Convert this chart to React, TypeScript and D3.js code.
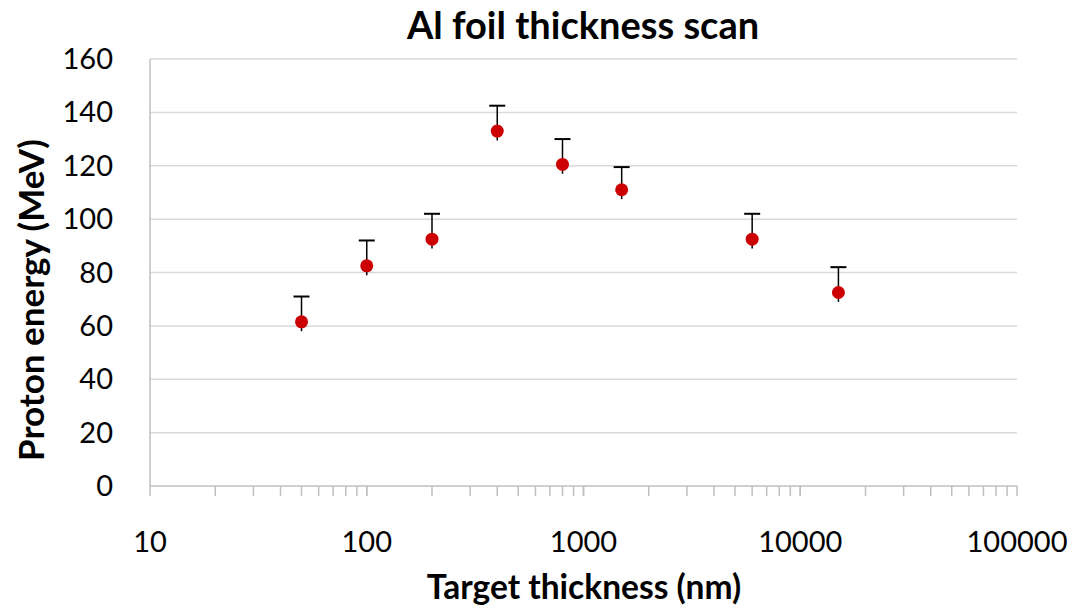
import React from "react";
import * as d3 from "d3";

const thickness = [50, 100, 200, 400, 800, 1500, 6000, 15000];
const energy = [61.5, 82.5, 92.5, 133, 120.5, 111, 92.5, 72.5];
const errPlus = [9.5, 9.5, 9.5, 9.5, 9.5, 8.5, 9.5, 9.5];
const errMinus = [3.5, 3.5, 3.5, 3.5, 3.5, 3.5, 3.5, 3.5];
const yTicks = [0, 20, 40, 60, 80, 100, 120, 140, 160];
const xTicks = [10, 100, 1000, 10000, 100000];

const W = 1084;
const H = 610;
const font = "Lato, 'Open Sans', sans-serif";

export default function App() {
  const x = d3.scaleLog().domain([10, 100000]).range([150, 1017]);
  const y = d3.scaleLinear().domain([0, 160]).range([486, 59]);
  const minor: number[] = [];
  for (let d = 10; d < 100000; d *= 10) {
    for (let k = 1; k <= 10; k++) minor.push(d * k);
  }
  return (
    <svg width={W} height={H} style={{ position: "absolute", left: 0, top: 0, background: "#fff" }}>
      <rect width={W} height={H} fill="#fff" />
      <text x={583} y={39} textAnchor="middle" fontFamily={font} fontWeight="bold" fontSize={38} fill="#000">
        Al foil thickness scan
      </text>
      {yTicks.filter((t) => t > 0).map((t) => (
        <line key={t} x1={150} x2={1017} y1={y(t)} y2={y(t)} stroke="#d9d9d9" strokeWidth={1.5} />
      ))}
      <line x1={150} x2={150} y1={y(160)} y2={y(0)} stroke="#bfbfbf" strokeWidth={1.5} />
      <line x1={150} x2={1017} y1={y(0)} y2={y(0)} stroke="#bfbfbf" strokeWidth={1.5} />
      {minor.map((m, i) => (
        <line key={i} x1={x(m)} x2={x(m)} y1={y(0)} y2={y(0) + 10} stroke="#bfbfbf" strokeWidth={1.5} />
      ))}
      {yTicks.map((t) => (
        <text key={t} x={113} y={y(t) + 10} textAnchor="end" fontFamily={font} fontSize={29} fill="#000">
          {t}
        </text>
      ))}
      {xTicks.map((t) => (
        <text key={t} x={x(t)} y={552} textAnchor="middle" fontFamily={font} fontSize={29} fill="#000">
          {t}
        </text>
      ))}
      <text x={584} y={599} textAnchor="middle" fontFamily={font} fontWeight="bold" fontSize={33.5} fill="#000">
        Target thickness (nm)
      </text>
      <text
        transform={`translate(44,${300}) rotate(-90)`}
        textAnchor="middle"
        fontFamily={font}
        fontWeight="bold"
        fontSize={35}
        fill="#000"
      >
        Proton energy (MeV)
      </text>
      {thickness.map((t, i) => {
        const cx = x(t);
        const cy = y(energy[i]);
        const top = y(energy[i] + errPlus[i]);
        const bot = y(energy[i] - errMinus[i]);
        return (
          <g key={i}>
            <line x1={cx} x2={cx} y1={top} y2={bot} stroke="#000" strokeWidth={1.5} />
            <line x1={cx - 8} x2={cx + 8} y1={top} y2={top} stroke="#000" strokeWidth={2} />
            <circle cx={cx} cy={cy} r={6.5} fill="#cc0000" />
          </g>
        );
      })}
    </svg>
  );
}
